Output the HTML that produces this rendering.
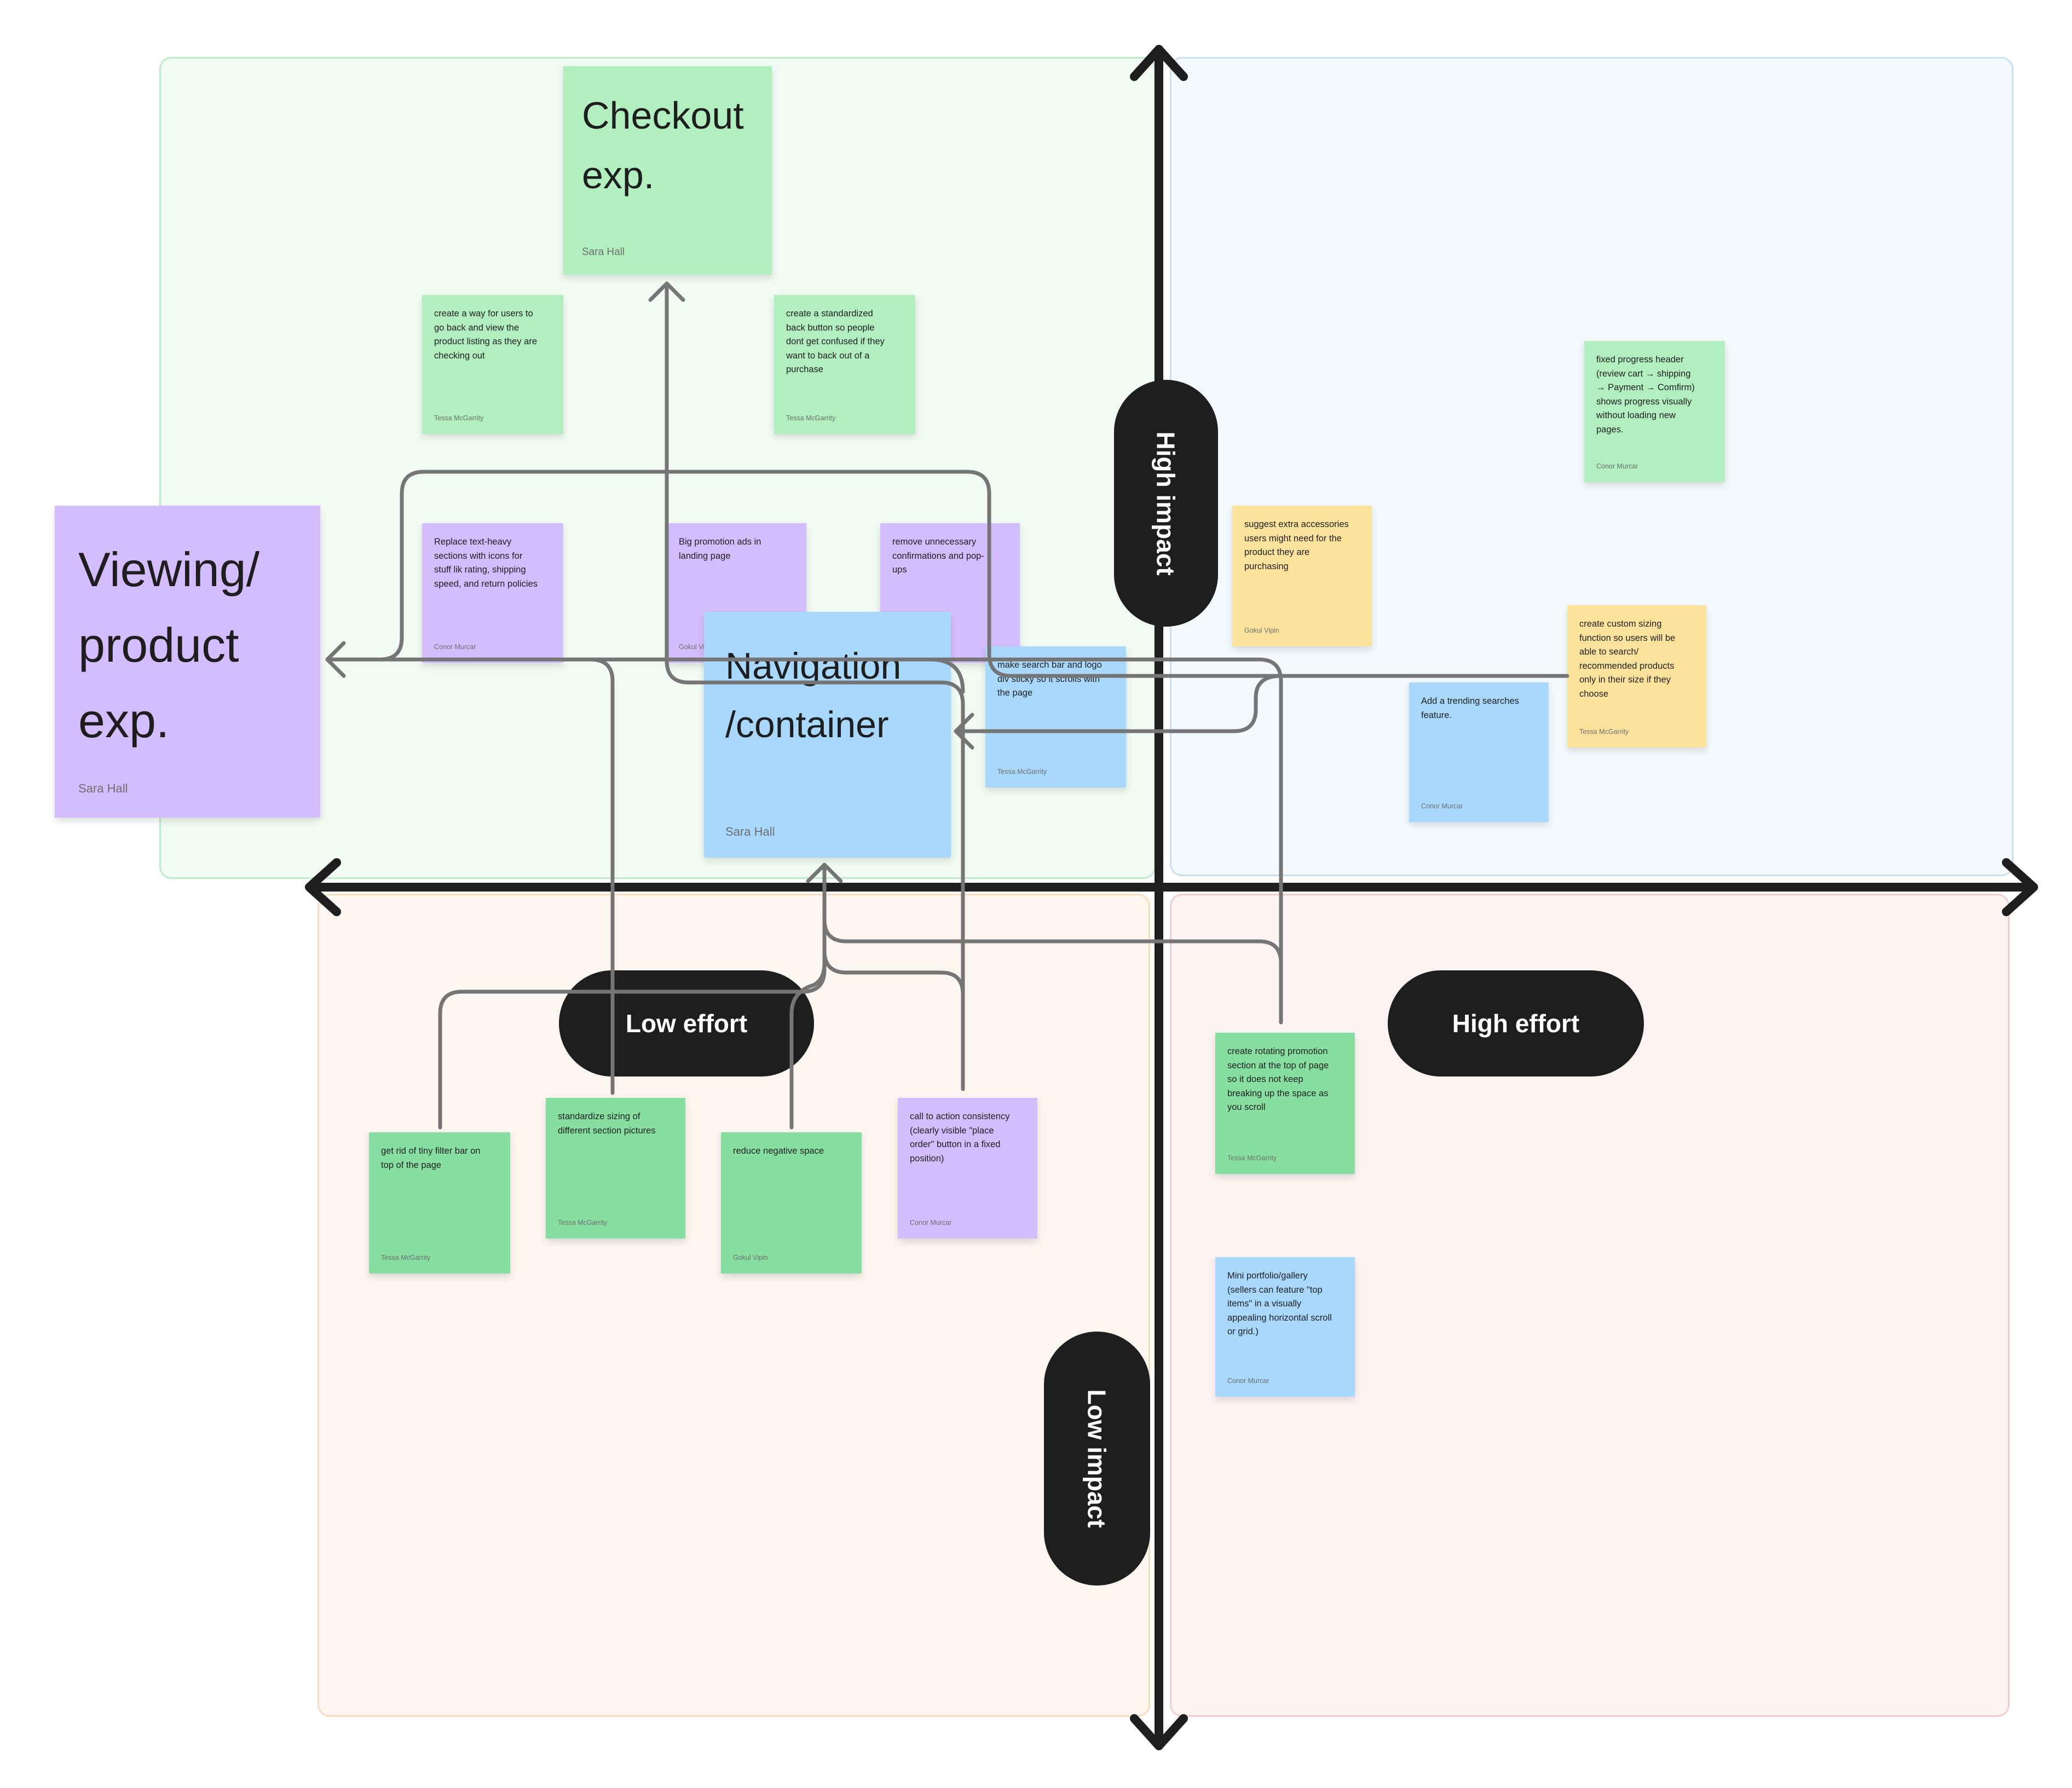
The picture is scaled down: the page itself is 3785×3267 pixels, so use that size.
<!DOCTYPE html>
<html><head><meta charset="utf-8"><style>
*{margin:0;padding:0;box-sizing:border-box}
body{width:3785px;height:3267px;background:#fff;position:relative;overflow:hidden;font-family:"Liberation Sans",sans-serif}
.q{position:absolute;border-radius:22px;border:3px solid}
.s{position:absolute;padding:22px 22px;font-size:16.5px;line-height:25.6px;color:#1e1e1e;box-shadow:0 6px 12px rgba(0,0,0,0.13)}
.s .a{position:absolute;left:22px;bottom:22px;font-size:12.5px;color:#6f6f6f;line-height:14px}
.g{background:#b2efbf}.dg{background:#86dfa0}.p{background:#d3bdfd}.b{background:#a8d9fd}.y{background:#fde29c}
.pill{position:absolute;background:#1e1e1e;color:#fff;font-weight:bold;display:flex;align-items:center;justify-content:center}
svg{position:absolute;left:0;top:0}
</style></head><body>
<div class="q" style="left:291px;top:104px;width:1820px;height:1502px;background:#f2fbf3;border-color:#bdeccb"></div>
<div class="q" style="left:2137px;top:104px;width:1541px;height:1497px;background:#f4f9fd;border-color:#c4e2f6"></div>
<div class="q" style="left:580px;top:1633px;width:1521px;height:1504px;background:#fdf6f0;border-color:#f8dcbc"></div>
<div class="q" style="left:2137px;top:1633px;width:1534px;height:1504px;background:#fdf3f3;border-color:#f4cece"></div>

<svg width="3785" height="3267">
<g stroke="#1e1e1e" stroke-width="16" fill="none" stroke-linecap="round" stroke-linejoin="round">
<line x1="2117" y1="90" x2="2117" y2="3190"/>
<line x1="570" y1="1621" x2="3710" y2="1621"/>
<polyline points="2072,140 2117,90 2162,140"/>
<polyline points="2072,3140 2117,3190 2162,3140"/>
<polyline points="615,1576 565,1621 615,1666"/>
<polyline points="3665,1576 3715,1621 3665,1666"/>
</g></svg>

<div class="pill" style="left:2035px;top:694px;width:190px;height:451px;border-radius:95px"><span style="transform:rotate(90deg);font-size:46px;white-space:nowrap">High impact</span></div>
<div class="pill" style="left:1907px;top:2433px;width:194px;height:464px;border-radius:97px"><span style="transform:rotate(90deg);font-size:46px;white-space:nowrap">Low impact</span></div>
<div class="pill" style="left:1021px;top:1773px;width:466px;height:194px;border-radius:97px;font-size:46px">Low effort</div>
<div class="pill" style="left:2535px;top:1773px;width:468px;height:194px;border-radius:97px;font-size:46px">High effort</div>

<div class="s g" style="left:1029px;top:121px;width:381px;height:381px;padding:36px 34px;font-size:70px;line-height:109px">Checkout<br>exp.<div class="a" style="left:34px;bottom:34px;font-size:19px">Sara Hall</div></div>
<div class="s g" style="left:771px;top:539px;width:258px;height:254px">create a way for users to<br>go back and view the<br>product listing as they are<br>checking out<div class="a">Tessa McGarrity</div></div>
<div class="s g" style="left:1414px;top:539px;width:258px;height:254px">create a standardized<br>back button so people<br>dont get confused if they<br>want to back out of a<br>purchase<div class="a">Tessa McGarrity</div></div>
<div class="s p" style="left:100px;top:924px;width:485px;height:570px;padding:48px 43px;font-size:88px;line-height:138px">Viewing/<br>product<br>exp.<div class="a" style="left:43px;bottom:46px;font-size:22px">Sara Hall</div></div>
<div class="s p" style="left:771px;top:956px;width:258px;height:255px">Replace text-heavy<br>sections with icons for<br>stuff lik rating, shipping<br>speed, and return policies<div class="a">Conor Murcar</div></div>
<div class="s p" style="left:1218px;top:956px;width:255px;height:255px">Big promotion ads in<br>landing page<div class="a">Gokul Vipin</div></div>
<div class="s p" style="left:1608px;top:956px;width:255px;height:255px">remove unnecessary<br>confirmations and pop-<br>ups<div class="a">Gokul Vipin</div></div>
<div class="s b" style="left:1286px;top:1118px;width:451px;height:449px;padding:46px 39px;font-size:68px;line-height:107px">Navigation<br>/container<div class="a" style="left:39px;bottom:40px;font-size:22px">Sara Hall</div></div>
<div class="s b" style="left:1800px;top:1181px;width:257px;height:258px">make search bar and logo<br>div sticky so it scrolls with<br>the page<div class="a">Tessa McGarrity</div></div>
<div class="s y" style="left:2251px;top:924px;width:255px;height:257px">suggest extra accessories<br>users might need for the<br>product they are<br>purchasing<div class="a">Gokul Vipin</div></div>
<div class="s g" style="left:2894px;top:623px;width:257px;height:258px">fixed progress header<br>(review cart → shipping<br>→ Payment → Comfirm)<br>shows progress visually<br>without loading new<br>pages.<div class="a">Conor Murcar</div></div>
<div class="s y" style="left:2863px;top:1106px;width:254px;height:260px">create custom sizing<br>function so users will be<br>able to search/<br>recommended products<br>only in their size if they<br>choose<div class="a">Tessa McGarrity</div></div>
<div class="s b" style="left:2574px;top:1247px;width:255px;height:255px">Add a trending searches<br>feature.<div class="a">Conor Murcar</div></div>
<div class="s dg" style="left:2220px;top:1887px;width:255px;height:258px">create rotating promotion<br>section at the top of page<br>so it does not keep<br>breaking up the space as<br>you scroll<div class="a">Tessa McGarrity</div></div>
<div class="s b" style="left:2220px;top:2297px;width:255px;height:255px">Mini portfolio/gallery<br>(sellers can feature "top<br>items" in a visually<br>appealing horizontal scroll<br>or grid.)<div class="a">Conor Murcar</div></div>
<div class="s dg" style="left:674px;top:2069px;width:258px;height:258px">get rid of tiny filter bar on<br>top of the page<div class="a">Tessa McGarrity</div></div>
<div class="s dg" style="left:997px;top:2006px;width:255px;height:257px">standardize sizing of<br>different section pictures<div class="a">Tessa McGarrity</div></div>
<div class="s dg" style="left:1317px;top:2069px;width:257px;height:258px">reduce negative space<div class="a">Gokul Vipin</div></div>
<div class="s p" style="left:1640px;top:2006px;width:255px;height:257px">call to action consistency<br>(clearly visible "place<br>order" button in a fixed<br>position)<div class="a">Conor Murcar</div></div>

<svg width="3785" height="3267">
<g stroke="#757575" stroke-width="7" fill="none" stroke-linecap="round" stroke-linejoin="round">
<path d="M2863,1235 H1847 Q1807,1235 1807,1195 V902 Q1807,862 1767,862 H774 Q734,862 734,902 V1165 Q734,1205 694,1205 H598"/>
<path d="M2340,1868 V1245 Q2340,1205 2300,1205 H598"/>
<path d="M1119,1997 V1245 Q1119,1205 1079,1205"/>
<path d="M1218,518 V1207 Q1218,1247 1258,1247 H1719 Q1759,1247 1759,1287 V1990"/>
<path d="M1700,1205 Q1759,1205 1759,1264"/>
<path d="M2340,1235 Q2294,1235 2294,1275 V1296 Q2294,1336 2254,1336 H1746"/>
<path d="M1506,1580 V1772 Q1506,1812 1466,1812 H844 Q804,1812 804,1852 V2060"/>
<path d="M1446,2060 V1852 Q1446,1812 1486,1800 Q1506,1790 1506,1760"/>
<path d="M1506,1680 Q1506,1720 1546,1720 H2300 Q2340,1720 2340,1760 V1868"/>
<path d="M1506,1737 Q1506,1777 1546,1777 H1719 Q1759,1777 1759,1817"/>
<polyline points="628,1175 598,1205 628,1235"/>
<polyline points="1188,548 1218,518 1248,548"/>
<polyline points="1776,1306 1746,1336 1776,1366"/>
<polyline points="1476,1610 1506,1580 1536,1610"/>
</g></svg>
</body></html>
